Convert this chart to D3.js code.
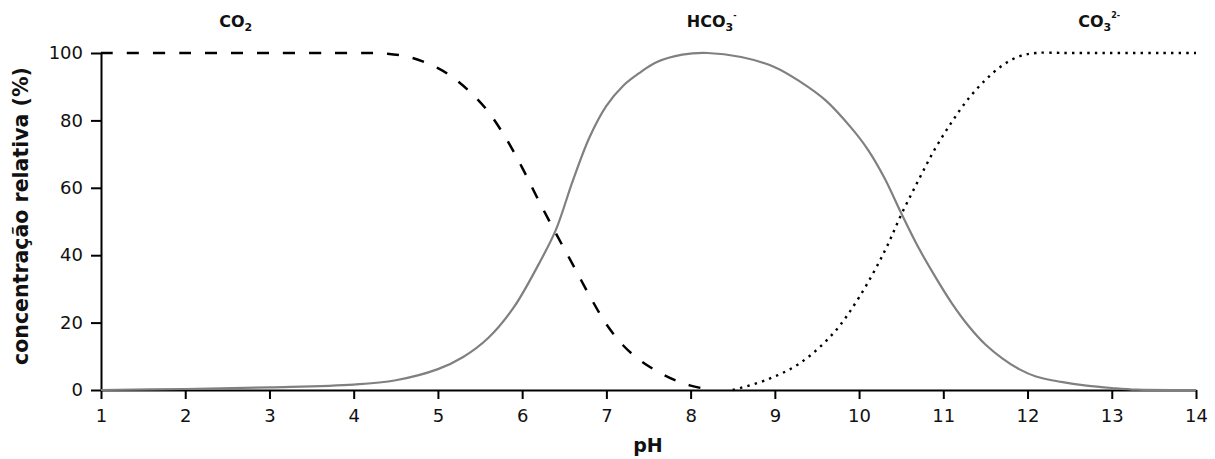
<!DOCTYPE html>
<html>
<head>
<meta charset="utf-8">
<script src="https://cdn.jsdelivr.net/npm/d3@7"></script>
<style>
  html, body { margin: 0; padding: 0; background: #fff; }
  svg { display: block; font-family: "DejaVu Sans", sans-serif; }
</style>
</head>
<body>
<svg id="chart" width="1215" height="459"></svg>
<script>
// Carbonate species distribution vs pH (relative concentration, %)
const phCO2 = [1, 2, 3, 4, 4.4, 4.7, 5.0, 5.2, 5.4, 5.6, 5.8, 6.0, 6.2, 6.4, 6.6, 6.8, 7.0, 7.2, 7.4, 7.6, 7.8, 8.0, 8.25];
const valCO2 = [100, 100, 100, 100, 99.8, 98.5, 95.5, 92.3, 88, 82.5, 75, 66, 56, 46.5, 37.3, 28, 19.5, 13.2, 8.8, 5.6, 3.1, 1.3, 0];

const phHCO3 = [1, 2, 3, 4, 4.5, 5.0, 5.3, 5.6, 5.9, 6.2, 6.4, 6.6, 6.8, 7.0, 7.2, 7.4, 7.6, 7.9, 8.2, 8.6, 9.0, 9.3, 9.6, 9.9, 10.1, 10.3, 10.5, 10.7, 10.9, 11.1, 11.3, 11.5, 11.7, 11.9, 12.1, 12.4, 12.7, 13.0, 13.3, 14];
const valHCO3 = [0, 0.3, 0.8, 1.6, 2.9, 6.2, 9.8, 15.5, 24.5, 37.5, 47.5, 62, 75, 84.3, 90.3, 94.2, 97.3, 99.5, 100, 98.8, 95.8, 91.5, 86, 78, 71.5, 63, 52.5, 42.5, 33.8, 25.8, 19, 13.5, 9.4, 6.2, 4.0, 2.4, 1.3, 0.6, 0.1, 0];

const phCO3 = [8.5, 8.9, 9.3, 9.7, 10.0, 10.3, 10.5, 10.7, 10.9, 11.1, 11.3, 11.5, 11.7, 11.9, 12.1, 12.5, 14];
const valCO3 = [0, 3, 8, 17, 27.5, 41, 52, 62, 71.5, 79.5, 86.5, 92, 96.3, 99, 100, 100, 100];

const xTicks = [1, 2, 3, 4, 5, 6, 7, 8, 9, 10, 11, 12, 13, 14];
const yTicks = [0, 20, 40, 60, 80, 100];

// Species labels along the top and the pH each one sits over
const speciesNames = ["CO", "HCO", "CO"];
const speciesSub = ["2", "3", "3"];
const speciesSup = ["", "-", "2-"];
const speciesPh = [2.6, 8.25, 12.85];

const svg = d3.select("#chart");
const m = { left: 101, right: 1196, top: 53, bottom: 390 };

const x = d3.scaleLinear().domain([1, 14]).range([m.left, m.right]);
const y = d3.scaleLinear().domain([0, 100]).range([m.bottom, m.top]);

const line = d3.line()
  .x(d => x(d[0]))
  .y(d => y(d[1]))
  .curve(d3.curveCatmullRom.alpha(0.5));

// Axes
const xAxis = svg.append("g")
  .attr("transform", `translate(0,${m.bottom})`)
  .call(d3.axisBottom(x).tickValues(xTicks).tickSize(9).tickSizeOuter(0).tickPadding(10).tickFormat(d3.format("d")));
const yAxis = svg.append("g")
  .attr("transform", `translate(${m.left},0)`)
  .call(d3.axisLeft(y).tickValues(yTicks).tickSize(10).tickSizeOuter(0).tickPadding(8).tickFormat(d3.format("d")));

[xAxis, yAxis].forEach(g => {
  g.selectAll("path, line").attr("stroke", "#000").attr("stroke-width", 2);
  g.selectAll("text").attr("font-size", 18).attr("fill", "#111")
    .attr("font-family", "DejaVu Sans, sans-serif");
});

// Curves
svg.append("path")
  .datum(d3.zip(phHCO3, valHCO3))
  .attr("d", line)
  .attr("fill", "none")
  .attr("stroke", "#808080")
  .attr("stroke-width", 2.2);

svg.append("path")
  .datum(d3.zip(phCO2, valCO2))
  .attr("d", line)
  .attr("fill", "none")
  .attr("stroke", "#000")
  .attr("stroke-width", 2.5)
  .attr("stroke-dasharray", "12,14");

svg.append("path")
  .datum(d3.zip(phCO3, valCO3))
  .attr("d", line)
  .attr("fill", "none")
  .attr("stroke", "#000")
  .attr("stroke-width", 2.4)
  .attr("stroke-dasharray", "2.4,5.2");

// Axis titles
svg.append("text")
  .attr("transform", `translate(28,216) rotate(-90)`)
  .attr("text-anchor", "middle")
  .attr("font-size", 20.5)
  .attr("font-weight", "bold")
  .attr("fill", "#111")
  .text("concentração relativa (%)");

svg.append("text")
  .attr("x", 648)
  .attr("y", 452)
  .attr("text-anchor", "middle")
  .attr("font-size", 19)
  .attr("font-weight", "bold")
  .attr("fill", "#111")
  .text("pH");

// Species labels
speciesNames.forEach((name, i) => {
  const t = svg.append("text")
    .attr("x", x(speciesPh[i]))
    .attr("y", 27)
    .attr("text-anchor", "middle")
    .attr("font-size", 16)
    .attr("font-weight", "bold")
    .attr("fill", "#111");
  t.append("tspan").text(name);
  t.append("tspan").attr("font-size", 11).attr("dy", 4).text(speciesSub[i]);
  if (speciesSup[i]) {
    t.append("tspan").attr("font-size", 8).attr("dy", -13).text(speciesSup[i]);
  }
});
</script>
</body>
</html>
